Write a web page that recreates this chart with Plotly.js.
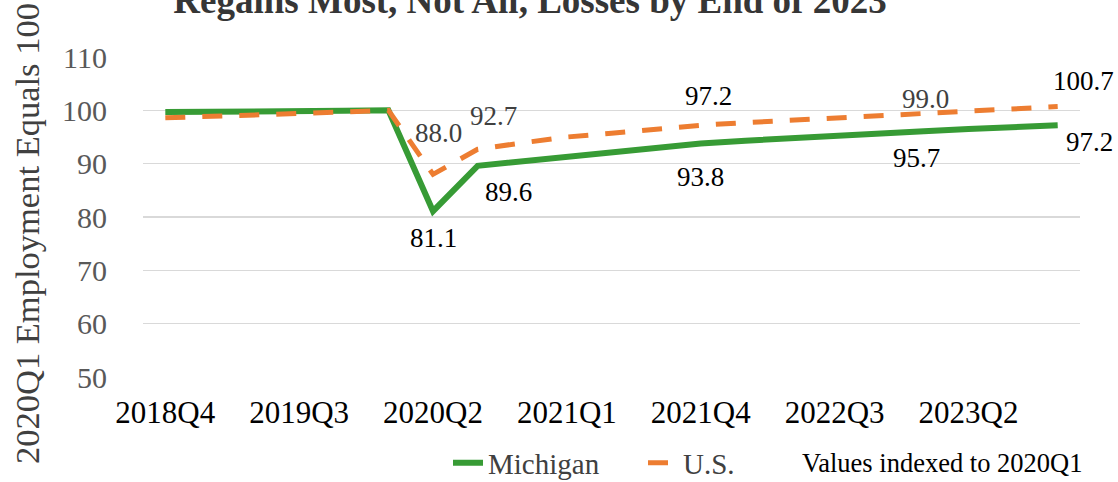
<!DOCTYPE html>
<html>
<head>
<meta charset="utf-8">
<script src="https://cdn.plot.ly/plotly-3.0.1.min.js"></script>
<style>
  html, body { margin: 0; padding: 0; background: #ffffff; }
  #chart { width: 1118px; height: 482px; }
</style>
</head>
<body>
<div id="chart"></div>
<script>
// ---- data ----
const quarters = [
  "2018Q4", "2019Q1", "2019Q2", "2019Q3", "2019Q4",
  "2020Q1", "2020Q2", "2020Q3", "2020Q4",
  "2021Q1", "2021Q2", "2021Q3", "2021Q4",
  "2022Q1", "2022Q2", "2022Q3", "2022Q4",
  "2023Q1", "2023Q2", "2023Q3", "2023Q4"
];
const michigan = [
  99.7, 99.7, 99.8, 99.9, 99.9,
  100.0, 81.1, 89.6, 90.4,
  91.3, 92.1, 93.0, 93.8,
  94.3, 94.8, 95.3, 95.7,
  96.1, 96.5, 96.9, 97.2
];
const us = [
  98.6, 98.8, 99.1, 99.4, 99.7,
  100.0, 88.0, 92.7, 93.9,
  95.0, 95.7, 96.5, 97.2,
  97.7, 98.1, 98.5, 99.0,
  99.5, 99.9, 100.3, 100.7
];
const tickQuarters = ["2018Q4", "2019Q3", "2020Q2", "2021Q1", "2021Q4", "2022Q3", "2023Q2"];
const yTicks = [50, 60, 70, 80, 90, 100, 110];
const labelQuarters = ["2020Q2", "2020Q3", "2021Q4", "2022Q4", "2023Q4"];
const seriesNames = ["Michigan", "U.S."];
const titleText = "Regains Most, Not All, Losses by End of 2023";
const yTitleText = "2020Q1 Employment Equals 100";
const noteText = "Values indexed to 2020Q1";

// ---- label placement (pixel shifts of the data labels, style only) ----
const miLabelShift = [[0, -27], [31, -26], [0, -34], [37, -25], [32, -17]];
const usLabelShift = [[5, 41], [16, 33], [8, 29], [46, 17], [26, 26]];
const miLabelColor = "#000000";
const usLabelColor = ["#404040", "#404040", "#000000", "#404040", "#000000"];

const FONT = "Liberation Serif";
const GREEN = "#379b35";
const ORANGE = "#ED7D31";

// plot area in pixels (layout only)
const M = { l: 143, r: 38, t: 57, b: 105 };
const W = 1118, H = 482;
const PW = W - M.l - M.r, PH = H - M.t - M.b;
const px2paperX = (px) => (px - M.l) / PW;
const px2paperY = (py) => (H - M.b - py) / PH;

const traces = [
  {
    type: "scatter", mode: "lines", name: seriesNames[0],
    x: quarters, y: michigan,
    line: { color: GREEN, width: 6 },
    hoverinfo: "skip"
  },
  {
    type: "scatter", mode: "lines", name: seriesNames[1],
    x: quarters, y: us,
    line: { color: ORANGE, width: 5, dash: "20px,17px" },
    hoverinfo: "skip"
  }
];

const annotations = [];
labelQuarters.forEach((q, i) => {
  const idx = quarters.indexOf(q);
  annotations.push({
    x: q, y: michigan[idx], xref: "x", yref: "y",
    text: michigan[idx].toFixed(1), showarrow: false,
    xshift: miLabelShift[i][0], yshift: miLabelShift[i][1],
    font: { family: FONT, size: 27, color: miLabelColor }
  });
  annotations.push({
    x: q, y: us[idx], xref: "x", yref: "y",
    text: us[idx].toFixed(1), showarrow: false,
    xshift: usLabelShift[i][0], yshift: usLabelShift[i][1],
    font: { family: FONT, size: 27, color: usLabelColor[i] }
  });
});
// note next to the legend
annotations.push({
  x: px2paperX(942), y: px2paperY(463), xref: "paper", yref: "paper",
  xanchor: "center", yanchor: "middle", showarrow: false,
  text: noteText,
  font: { family: FONT, size: 26.5, color: "#000000" }
});
// y-axis title (placed like the reference, slightly below axis centre)
annotations.push({
  x: px2paperX(27), y: px2paperY(234), xref: "paper", yref: "paper",
  xanchor: "center", yanchor: "middle", showarrow: false,
  textangle: -90,
  text: yTitleText,
  font: { family: FONT, size: 34.5, color: "#404040" }
});

const layout = {
  width: W, height: H,
  margin: M,
  paper_bgcolor: "#ffffff", plot_bgcolor: "#ffffff",
  font: { family: FONT, color: "#404040" },
  title: {
    text: titleText,
    font: { family: FONT, size: 37, color: "#363636", weight: "bold" },
    xref: "container", yref: "container",
    x: 530 / W, xanchor: "center",
    y: 1.0, yanchor: "middle"
  },
  xaxis: {
    type: "category",
    categoryorder: "array", categoryarray: quarters,
    range: [-0.5, quarters.length - 0.5],
    tickmode: "array", tickvals: tickQuarters, ticktext: tickQuarters,
    tickfont: { family: FONT, size: 31, color: "#000000" },
    showgrid: false, zeroline: false, showline: false, ticks: "",
    ticklabelstandoff: 14,
    fixedrange: true
  },
  yaxis: {
    range: [50, 110],
    tickmode: "array", tickvals: yTicks,
    tickfont: { family: FONT, size: 30, color: "#595959" },
    showgrid: true, gridcolor: "#d9d9d9", gridwidth: 1.5,
    zeroline: false, showline: false, ticks: "",
    ticklabelstandoff: 35,
    fixedrange: true
  },
  showlegend: true,
  legend: {
    orientation: "h",
    xref: "container", yref: "container",
    x: 448 / W, xanchor: "left",
    y: 1 - 463 / H, yanchor: "middle",
    font: { family: FONT, size: 29, color: "#404040" },
    bgcolor: "rgba(0,0,0,0)",
    itemwidth: 30,
    entrywidth: 150, entrywidthmode: "pixels"
  },
  annotations: annotations
};

Plotly.newPlot("chart", traces, layout, { displayModeBar: false, staticPlot: true });
</script>
</body>
</html>
